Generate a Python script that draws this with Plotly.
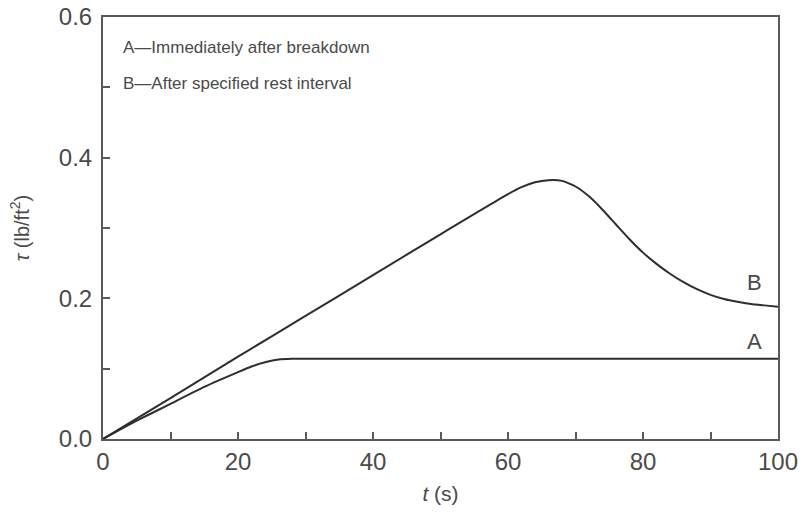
import plotly.graph_objects as go

# Curve A: immediately after breakdown
t_a = [0, 5, 10, 15, 20, 22, 24, 26, 28, 30, 40, 50, 60, 70, 80, 90, 100]
tau_a = [0, 0.026, 0.050, 0.074, 0.095, 0.103, 0.109, 0.113, 0.114, 0.114, 0.114, 0.114, 0.114, 0.114, 0.114, 0.114, 0.114]

# Curve B: after specified rest interval
t_b = [0, 10, 20, 30, 40, 50, 60, 62, 64, 66, 68, 70, 72, 74, 76, 78, 80, 82, 84, 86, 88, 90, 92, 94, 96, 98, 100]
tau_b = [0, 0.058, 0.117, 0.175, 0.233, 0.291, 0.348, 0.358, 0.365, 0.368, 0.367, 0.359, 0.345, 0.326, 0.305, 0.284, 0.265, 0.249, 0.235, 0.223, 0.213, 0.205, 0.199, 0.195, 0.192, 0.190, 0.188]

x_ticks = [0, 20, 40, 60, 80, 100]
y_ticks = [0.0, 0.2, 0.4, 0.6]
y_tick_text = ["0.0", "0.2", "0.4", "0.6"]

legend_lines = ["A\u2014Immediately after breakdown", "B\u2014After specified rest interval"]
curve_labels = ["B", "A"]

FONT = "Liberation Sans, Arial, sans-serif"
TXT = "#4a4a4a"
AX = "#5a5a5a"

fig = go.Figure()
fig.add_trace(go.Scatter(x=t_a, y=tau_a, mode="lines",
                         line=dict(color="#2e2e2e", width=2, shape="spline", smoothing=0.4),
                         showlegend=False, hoverinfo="skip"))
fig.add_trace(go.Scatter(x=t_b, y=tau_b, mode="lines",
                         line=dict(color="#2e2e2e", width=2, shape="spline", smoothing=0.5),
                         showlegend=False, hoverinfo="skip"))

# Legend-like text lines
for i, txt in enumerate(legend_lines):
    fig.add_annotation(x=2.6, y=[0.556, 0.506][i], xref="x", yref="y", text=txt,
                       showarrow=False, xanchor="left", yanchor="middle",
                       font=dict(family=FONT, size=17, color=TXT))

# Curve labels
for lab, yv in zip(curve_labels, [0.222, 0.139]):
    fig.add_annotation(x=96.5, y=yv, xref="x", yref="y", text=lab, showarrow=False,
                       xanchor="center", yanchor="middle",
                       font=dict(family=FONT, size=22, color=TXT))

fig.update_xaxes(range=[0, 100], tickvals=x_ticks, ticktext=[str(v) for v in x_ticks],
                 ticks="inside", ticklen=7, tickwidth=1.5, tickcolor=AX,
                 minor=dict(tickvals=[10, 30, 50, 70, 90], ticks="inside", ticklen=7,
                            tickwidth=1.5, tickcolor=AX),
                 showline=True, linecolor=AX, linewidth=2, mirror=True,
                 showgrid=False, zeroline=False, automargin=False,
                 ticklabeloverflow="allow",
                 tickfont=dict(family=FONT, size=24, color=TXT),
                 title=dict(text="<i>t</i> (s)", font=dict(family=FONT, size=21, color=TXT),
                            standoff=13))
fig.update_yaxes(range=[0, 0.6], tickvals=y_ticks, ticktext=y_tick_text,
                 ticks="inside", ticklen=7, tickwidth=1.5, tickcolor=AX,
                 minor=dict(tickvals=[0.1, 0.3, 0.5], ticks="inside", ticklen=7,
                            tickwidth=1.5, tickcolor=AX),
                 showline=True, linecolor=AX, linewidth=2, mirror=True,
                 showgrid=False, zeroline=False, automargin=False,
                 ticklabelstandoff=4, ticklabeloverflow="allow",
                 tickfont=dict(family=FONT, size=24, color=TXT),
                 title=dict(text="<i>\u03c4</i> (lb/ft<sup>2</sup>)",
                            font=dict(family=FONT, size=20, color=TXT), standoff=24))

fig.update_layout(width=803, height=512, paper_bgcolor="white", plot_bgcolor="white",
                  margin=dict(l=103, r=25, t=17, b=73), showlegend=False)

fig.write_html("out.html", config={"displayModeBar": False},
               post_script="document.body.style.margin='0';document.body.style.overflow='hidden';")
